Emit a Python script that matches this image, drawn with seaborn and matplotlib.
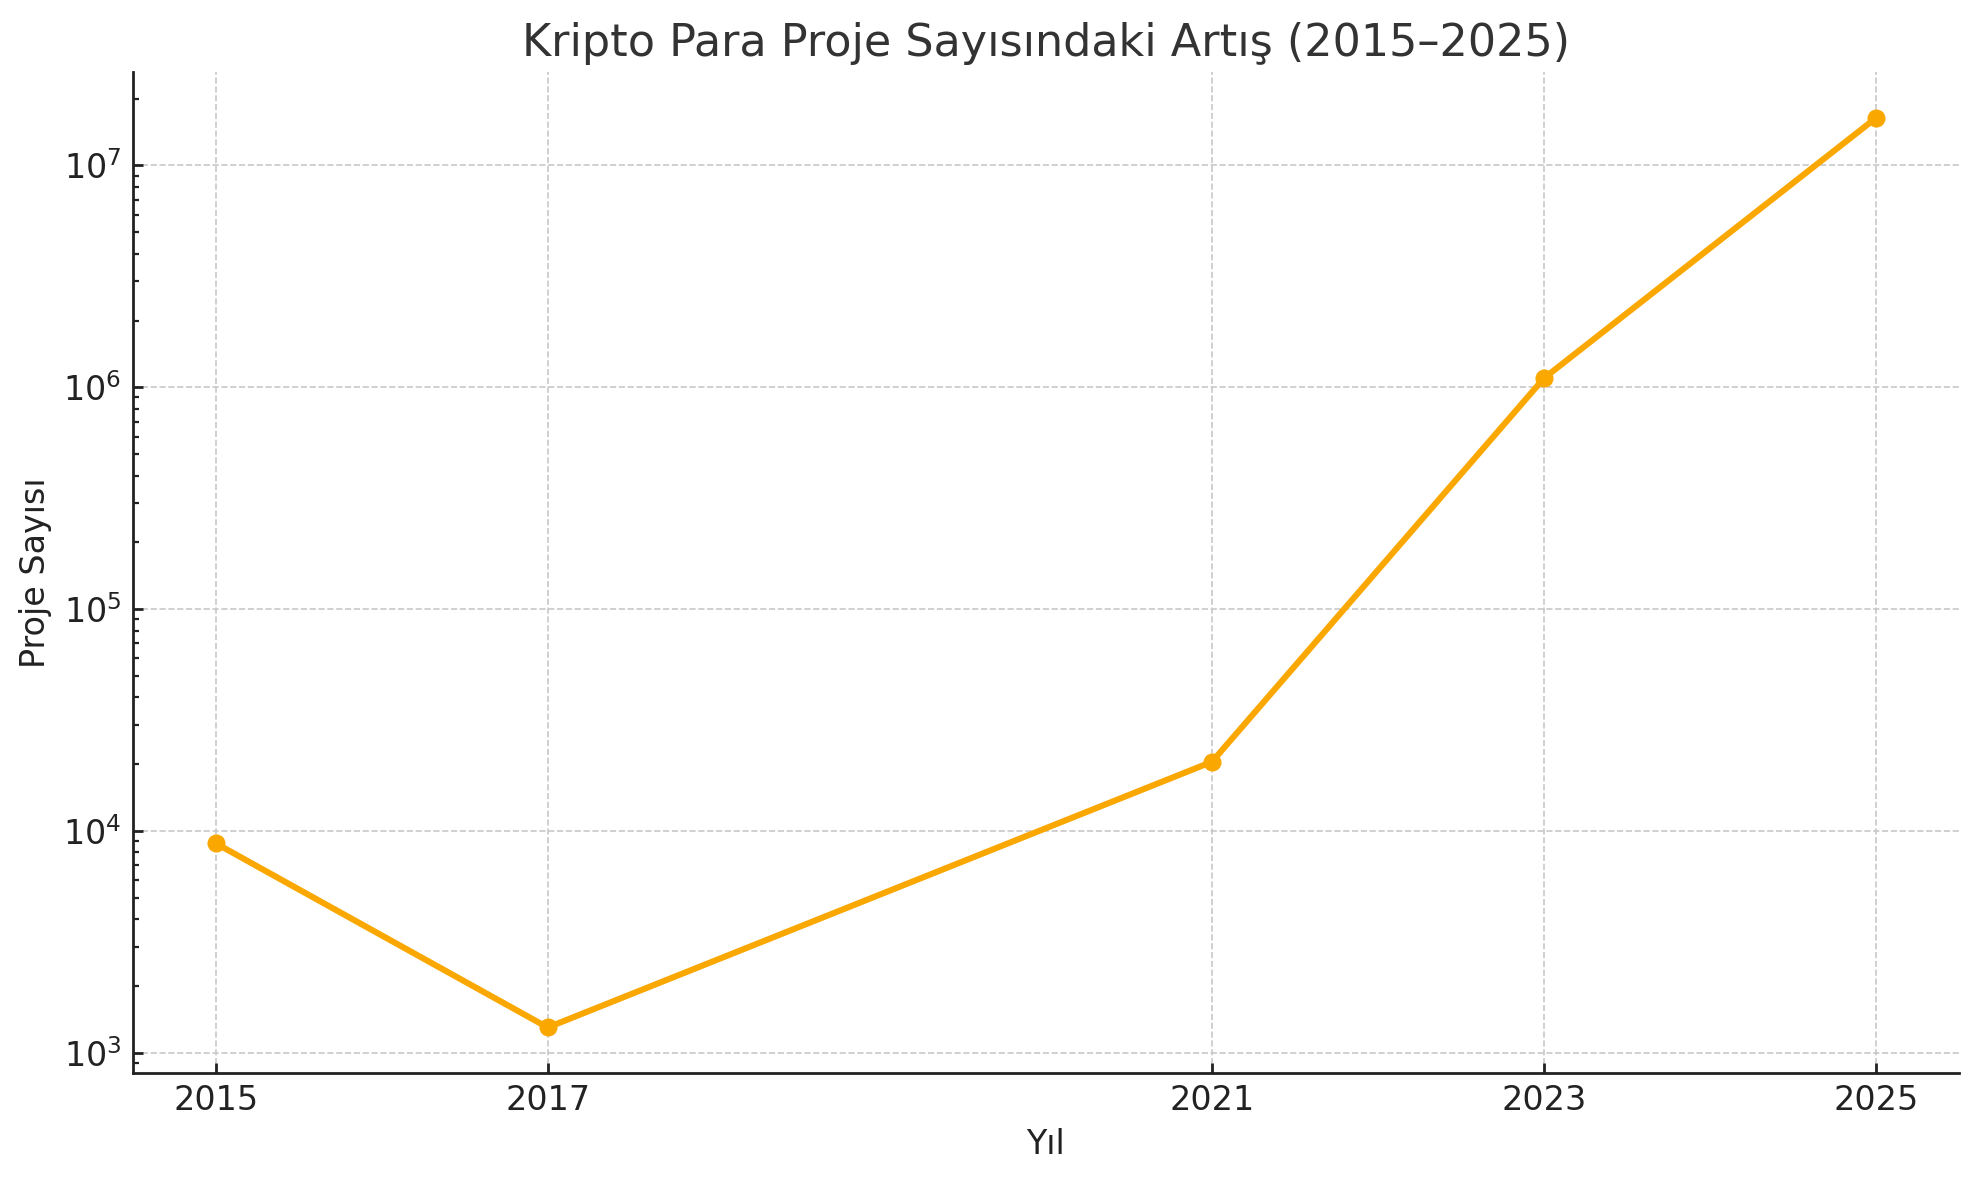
import matplotlib
matplotlib.use("Agg")
import matplotlib.pyplot as plt
import seaborn as sns
import pandas as pd
from matplotlib.ticker import LogLocator, NullFormatter

years = [2015, 2017, 2021, 2023, 2025]
projects = [8800, 1300, 20500, 1100000, 16400000]

df = pd.DataFrame({"Yıl": years, "Proje Sayısı": projects})

sns.set_theme(style="ticks")
plt.rcParams["font.family"] = ["DejaVu Sans"]

fig = plt.figure(figsize=(9.895, 5.9), dpi=200)
ax = fig.add_axes([0.067, 0.0907, 0.923, 0.848])

sns.lineplot(data=df, x="Yıl", y="Proje Sayısı", ax=ax, color="#FAA700",
             linewidth=2.2, marker="o", markersize=6.5, markeredgewidth=0)
ax.set_yscale("log")
ax.yaxis.set_major_locator(LogLocator(base=10))
ax.yaxis.set_minor_locator(LogLocator(base=10, subs=range(2, 10)))
ax.yaxis.set_minor_formatter(NullFormatter())
ax.set_xticks(years)
ax.set_xticklabels([str(y) for y in years])

ax.grid(True, which="major", linestyle="--", linewidth=0.6, color="#c8c8c8")
ax.set_axisbelow(True)
sns.despine(ax=ax)
for s in ["left", "bottom"]:
    ax.spines[s].set_color("#222222")
    ax.spines[s].set_linewidth(1.0)

ax.tick_params(axis="both", which="major", labelsize=12, colors="#222222",
               length=3.5, width=1.0, direction="in", pad=4)
ax.tick_params(axis="y", which="minor", length=2, width=0.8, colors="#222222",
               direction="in")

ax.set_title("Kripto Para Proje Sayısındaki Artış (2015–2025)", fontsize=16,
             color="#333333", pad=6)
ax.set_xlabel("Yıl", fontsize=12, color="#222222")
ax.set_ylabel("Proje Sayısı", fontsize=12, color="#222222")

fig.savefig("out.png", dpi=200)
